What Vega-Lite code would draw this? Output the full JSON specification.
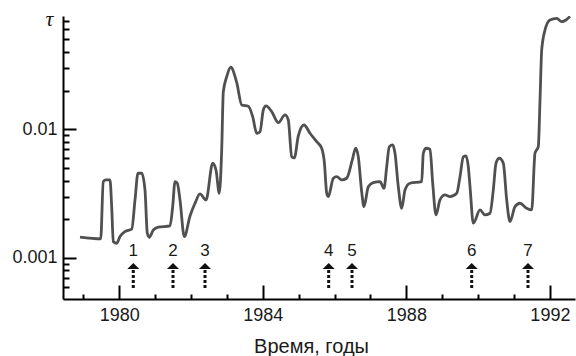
{
  "$schema": "https://vega.github.io/schema/vega-lite/v6.json",
  "width": 512,
  "height": 283,
  "autosize": {"type": "none"},
  "padding": {"left": 63, "top": 16, "right": 1, "bottom": 57},
  "background": "white",
  "config": {"view": {"stroke": null}, "font": "Liberation Sans"},
  "datasets": {
    "curve": [
      {"year": 1978.904, "tau": 0.00145},
      {"year": 1979.481, "tau": 0.001406},
      {"year": 1979.553, "tau": 0.003921},
      {"year": 1979.629, "tau": 0.004042},
      {"year": 1979.740, "tau": 0.004042},
      {"year": 1979.787, "tau": 0.002506},
      {"year": 1979.832, "tau": 0.00134},
      {"year": 1979.927, "tau": 0.001302},
      {"year": 1980.019, "tau": 0.001466},
      {"year": 1980.158, "tau": 0.001603},
      {"year": 1980.345, "tau": 0.001673},
      {"year": 1980.437, "tau": 0.002826},
      {"year": 1980.520, "tau": 0.004556},
      {"year": 1980.623, "tau": 0.004556},
      {"year": 1980.715, "tau": 0.003379},
      {"year": 1980.780, "tau": 0.001558},
      {"year": 1980.835, "tau": 0.00145},
      {"year": 1980.947, "tau": 0.001652},
      {"year": 1981.086, "tau": 0.001734},
      {"year": 1981.412, "tau": 0.001775},
      {"year": 1981.487, "tau": 0.002506},
      {"year": 1981.552, "tau": 0.003921},
      {"year": 1981.616, "tau": 0.00381},
      {"year": 1981.691, "tau": 0.002826},
      {"year": 1981.811, "tau": 0.001466},
      {"year": 1981.970, "tau": 0.002121},
      {"year": 1982.109, "tau": 0.002664},
      {"year": 1982.248, "tau": 0.003146},
      {"year": 1982.416, "tau": 0.002826},
      {"year": 1982.602, "tau": 0.005449},
      {"year": 1982.694, "tau": 0.004832},
      {"year": 1982.786, "tau": 0.003186},
      {"year": 1982.853, "tau": 0.006914},
      {"year": 1982.898, "tau": 0.01952},
      {"year": 1982.993, "tau": 0.02566},
      {"year": 1983.104, "tau": 0.03036},
      {"year": 1983.271, "tau": 0.02312},
      {"year": 1983.411, "tau": 0.01546},
      {"year": 1983.595, "tau": 0.0151},
      {"year": 1983.717, "tau": 0.01254},
      {"year": 1983.829, "tau": 0.00932},
      {"year": 1983.921, "tau": 0.00959},
      {"year": 1984.013, "tau": 0.01414},
      {"year": 1984.088, "tau": 0.01519},
      {"year": 1984.247, "tau": 0.01372},
      {"year": 1984.431, "tau": 0.01126},
      {"year": 1984.617, "tau": 0.01293},
      {"year": 1984.709, "tau": 0.01182},
      {"year": 1984.804, "tau": 0.006133},
      {"year": 1984.877, "tau": 0.005992},
      {"year": 1984.988, "tau": 0.00888},
      {"year": 1985.147, "tau": 0.01081},
      {"year": 1985.314, "tau": 0.00932},
      {"year": 1985.501, "tau": 0.008018},
      {"year": 1985.640, "tau": 0.007125},
      {"year": 1985.713, "tau": 0.005577},
      {"year": 1985.780, "tau": 0.003186},
      {"year": 1985.824, "tau": 0.002998},
      {"year": 1985.964, "tau": 0.004166},
      {"year": 1986.058, "tau": 0.004288},
      {"year": 1986.198, "tau": 0.004042},
      {"year": 1986.337, "tau": 0.004166},
      {"year": 1986.493, "tau": 0.005779},
      {"year": 1986.588, "tau": 0.007125},
      {"year": 1986.660, "tau": 0.006133},
      {"year": 1986.755, "tau": 0.003261},
      {"year": 1986.819, "tau": 0.002506},
      {"year": 1986.939, "tau": 0.003584},
      {"year": 1987.078, "tau": 0.003851},
      {"year": 1987.265, "tau": 0.003921},
      {"year": 1987.377, "tau": 0.003483},
      {"year": 1987.452, "tau": 0.005127},
      {"year": 1987.524, "tau": 0.007333},
      {"year": 1987.619, "tau": 0.007559},
      {"year": 1987.683, "tau": 0.006516},
      {"year": 1987.775, "tau": 0.003584},
      {"year": 1987.870, "tau": 0.002435},
      {"year": 1987.962, "tau": 0.003379},
      {"year": 1988.101, "tau": 0.00381},
      {"year": 1988.427, "tau": 0.003921},
      {"year": 1988.472, "tau": 0.006516},
      {"year": 1988.547, "tau": 0.007125},
      {"year": 1988.659, "tau": 0.007},
      {"year": 1988.734, "tau": 0.00381},
      {"year": 1988.826, "tau": 0.00216},
      {"year": 1988.937, "tau": 0.002826},
      {"year": 1989.077, "tau": 0.00309},
      {"year": 1989.216, "tau": 0.002998},
      {"year": 1989.403, "tau": 0.003186},
      {"year": 1989.495, "tau": 0.004288},
      {"year": 1989.587, "tau": 0.0061},
      {"year": 1989.662, "tau": 0.006209},
      {"year": 1989.726, "tau": 0.005127},
      {"year": 1989.774, "tau": 0.003584},
      {"year": 1989.866, "tau": 0.001863},
      {"year": 1990.052, "tau": 0.002362},
      {"year": 1990.192, "tau": 0.00216},
      {"year": 1990.331, "tau": 0.002227},
      {"year": 1990.423, "tau": 0.003379},
      {"year": 1990.498, "tau": 0.005449},
      {"year": 1990.590, "tau": 0.005959},
      {"year": 1990.702, "tau": 0.005449},
      {"year": 1990.796, "tau": 0.002826},
      {"year": 1990.888, "tau": 0.001917},
      {"year": 1991.028, "tau": 0.002506},
      {"year": 1991.167, "tau": 0.002664},
      {"year": 1991.354, "tau": 0.002435},
      {"year": 1991.493, "tau": 0.002362},
      {"year": 1991.585, "tau": 0.006516},
      {"year": 1991.677, "tau": 0.007333},
      {"year": 1991.725, "tau": 0.01691},
      {"year": 1991.772, "tau": 0.04136},
      {"year": 1991.864, "tau": 0.05916},
      {"year": 1992.003, "tau": 0.07075},
      {"year": 1992.190, "tau": 0.07293},
      {"year": 1992.329, "tau": 0.06863},
      {"year": 1992.449, "tau": 0.07075},
      {"year": 1992.561, "tau": 0.0755}
    ],
    "events": [
      {"n": "1", "year": 1980.389},
      {"n": "2", "year": 1981.496},
      {"n": "3", "year": 1982.388},
      {"n": "4", "year": 1985.835},
      {"n": "5", "year": 1986.485},
      {"n": "6", "year": 1989.821},
      {"n": "7", "year": 1991.390}
    ]
  },
  "layer": [
    {
      "data": {"name": "curve"},
      "mark": {"type": "line", "color": "#505050", "strokeWidth": 2.8, "interpolate": "monotone", "clip": true},
      "encoding": {
        "x": {
          "field": "year", "type": "quantitative",
          "scale": {"domain": [1978.43, 1992.7], "nice": false, "zero": false},
          "axis": {
            "orient": "bottom",
            "values": [1980, 1984, 1988, 1992], "format": "d",
            "title": "Время, годы",
            "grid": false,
            "tickSize": -14, "tickWidth": 2, "tickColor": "#000",
            "domainColor": "#000", "domainWidth": 2,
            "labelFontSize": 18, "labelColor": "#1a1a1a", "labelPadding": 21,
            "labelFlush": false, "labelOverlap": false,
            "titleFontSize": 20, "titleFontWeight": "normal", "titleColor": "#1a1a1a",
            "titleX": 248, "titleY": 53, "titleBaseline": "alphabetic", "titleAlign": "center"
          }
        },
        "y": {
          "field": "tau", "type": "quantitative",
          "scale": {"type": "log", "domain": [0.00048, 0.076], "nice": false},
          "axis": {
            "orient": "left",
            "values": [0.001, 0.01], "format": ".3~f",
            "grid": false,
            "tickSize": -13, "tickWidth": 2, "tickColor": "#000",
            "domainColor": "#000", "domainWidth": 2,
            "labelFontSize": 18, "labelColor": "#1a1a1a", "labelPadding": 19,
            "title": "τ", "titleAngle": 0, "titleX": -14, "titleY": 9,
            "titleFont": "Liberation Serif", "titleFontStyle": "italic", "titleFontSize": 22,
            "titleFontWeight": "normal", "titleColor": "#1a1a1a",
            "titleAlign": "center", "titleBaseline": "alphabetic"
          }
        }
      }
    },
    {
      "data": {"name": "events"},
      "mark": {"type": "rule", "color": "#111", "strokeWidth": 3, "strokeDash": [3, 2]},
      "encoding": {
        "x": {
          "field": "year", "type": "quantitative",
          "axis": {
            "orient": "bottom",
            "values": [1979, 1981, 1982, 1983, 1985, 1986, 1987, 1989, 1990, 1991],
            "labels": false, "title": null, "domain": false, "grid": false,
            "tickSize": -5, "tickWidth": 2, "tickColor": "#000"
          }
        },
        "y": {
          "datum": 0.000585, "type": "quantitative",
          "axis": {
            "orient": "left",
            "values": [0.0006, 0.0007, 0.0008, 0.0009, 0.002, 0.003, 0.004, 0.005, 0.006, 0.007, 0.008, 0.009, 0.02, 0.03, 0.04, 0.05, 0.06, 0.07],
            "labels": false, "title": null, "domain": false, "grid": false,
            "tickSize": -6, "tickWidth": 2, "tickColor": "#000"
          }
        },
        "y2": {"datum": 0.000815}
      }
    },
    {
      "data": {"name": "events"},
      "mark": {"type": "point", "shape": "M -1 0.5 L 0 -0.5 L 1 0.5 Z", "filled": true, "color": "#111", "size": 144, "opacity": 1},
      "encoding": {
        "x": {"field": "year", "type": "quantitative", "axis": null},
        "y": {"datum": 0.000868, "type": "quantitative", "axis": null}
      }
    },
    {
      "data": {"name": "events"},
      "mark": {"type": "text", "fontSize": 17, "color": "#1a1a1a", "align": "center", "baseline": "middle"},
      "encoding": {
        "x": {"field": "year", "type": "quantitative", "axis": null},
        "y": {"datum": 0.00114, "type": "quantitative", "axis": null},
        "text": {"field": "n"}
      }
    }
  ],
  "resolve": {"axis": {"x": "independent", "y": "independent"}}
}
